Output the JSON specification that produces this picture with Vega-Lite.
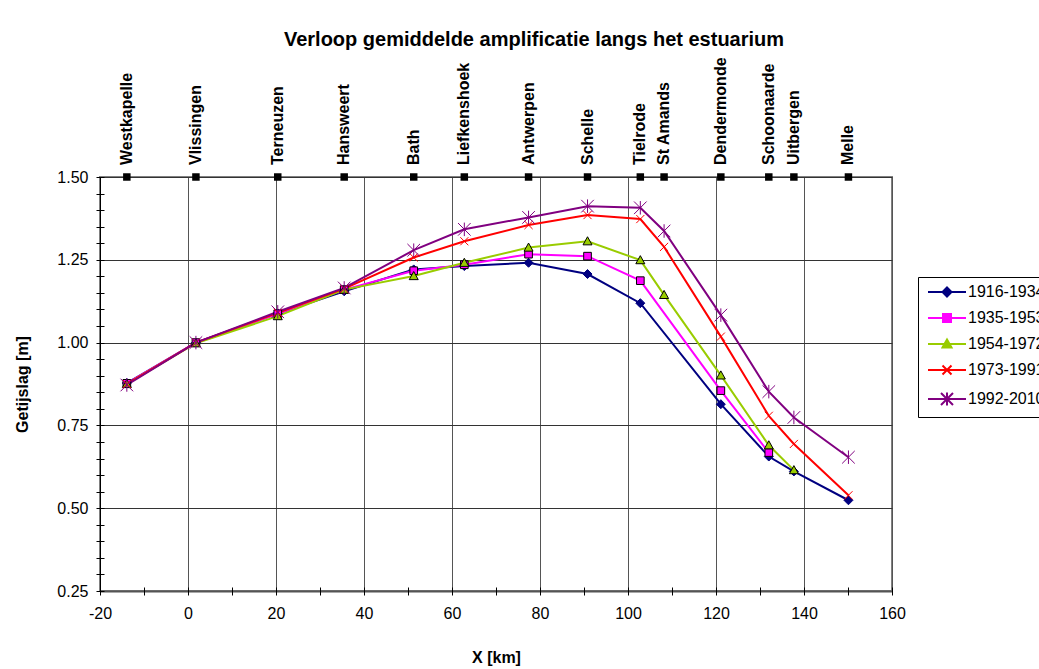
{
  "$schema": "https://vega.github.io/schema/vega-lite/v6.json",
  "width": 792,
  "height": 414,
  "autosize": {"type": "none"},
  "padding": {"left": 100, "top": 177, "right": 147, "bottom": 78},
  "background": "white",
  "config": {
    "font": "Liberation Sans",
    "view": {"stroke": "#808080", "strokeWidth": 2},
    "axis": {"labelColor": "black", "titleColor": "black", "labelFont": "Liberation Sans", "titleFont": "Liberation Sans"}
  },
  "title": {
    "text": "Verloop gemiddelde amplificatie langs het estuarium",
    "fontSize": 20,
    "fontWeight": "bold",
    "font": "Liberation Sans",
    "color": "black",
    "anchor": "middle",
    "dx": 38,
    "offset": 7
  },
  "datasets": {
    "amp": [
      {"series": "1916-1934", "km": -13.9, "v": 0.878},
      {"series": "1916-1934", "km": 1.8, "v": 1.0},
      {"series": "1916-1934", "km": 20.4, "v": 1.088},
      {"series": "1916-1934", "km": 35.5, "v": 1.155},
      {"series": "1916-1934", "km": 51.3, "v": 1.221},
      {"series": "1916-1934", "km": 62.8, "v": 1.231},
      {"series": "1916-1934", "km": 77.4, "v": 1.241},
      {"series": "1916-1934", "km": 90.8, "v": 1.207},
      {"series": "1916-1934", "km": 102.8, "v": 1.119},
      {"series": "1916-1934", "km": 121.1, "v": 0.814},
      {"series": "1916-1934", "km": 132.0, "v": 0.656},
      {"series": "1916-1934", "km": 137.7, "v": 0.611},
      {"series": "1916-1934", "km": 150.1, "v": 0.524},
      {"series": "1935-1953", "km": -13.9, "v": 0.877},
      {"series": "1935-1953", "km": 1.8, "v": 1.0},
      {"series": "1935-1953", "km": 20.4, "v": 1.087},
      {"series": "1935-1953", "km": 35.5, "v": 1.16},
      {"series": "1935-1953", "km": 51.3, "v": 1.217},
      {"series": "1935-1953", "km": 62.8, "v": 1.235},
      {"series": "1935-1953", "km": 77.4, "v": 1.267},
      {"series": "1935-1953", "km": 90.8, "v": 1.261},
      {"series": "1935-1953", "km": 102.8, "v": 1.187},
      {"series": "1935-1953", "km": 121.1, "v": 0.855},
      {"series": "1935-1953", "km": 132.0, "v": 0.668},
      {"series": "1954-1972", "km": -13.9, "v": 0.875},
      {"series": "1954-1972", "km": 1.8, "v": 0.998},
      {"series": "1954-1972", "km": 20.4, "v": 1.08},
      {"series": "1954-1972", "km": 35.5, "v": 1.16},
      {"series": "1954-1972", "km": 51.3, "v": 1.201},
      {"series": "1954-1972", "km": 62.8, "v": 1.241},
      {"series": "1954-1972", "km": 77.4, "v": 1.287},
      {"series": "1954-1972", "km": 90.8, "v": 1.306},
      {"series": "1954-1972", "km": 102.8, "v": 1.249},
      {"series": "1954-1972", "km": 108.2, "v": 1.144},
      {"series": "1954-1972", "km": 121.1, "v": 0.901},
      {"series": "1954-1972", "km": 132.0, "v": 0.69},
      {"series": "1954-1972", "km": 137.7, "v": 0.615},
      {"series": "1973-1991", "km": -13.9, "v": 0.875},
      {"series": "1973-1991", "km": 1.8, "v": 1.0},
      {"series": "1973-1991", "km": 20.4, "v": 1.09},
      {"series": "1973-1991", "km": 35.5, "v": 1.163},
      {"series": "1973-1991", "km": 51.3, "v": 1.257},
      {"series": "1973-1991", "km": 62.8, "v": 1.306},
      {"series": "1973-1991", "km": 77.4, "v": 1.355},
      {"series": "1973-1991", "km": 90.8, "v": 1.385},
      {"series": "1973-1991", "km": 102.8, "v": 1.373},
      {"series": "1973-1991", "km": 108.2, "v": 1.289},
      {"series": "1973-1991", "km": 121.1, "v": 1.018},
      {"series": "1973-1991", "km": 132.0, "v": 0.779},
      {"series": "1973-1991", "km": 137.7, "v": 0.694},
      {"series": "1973-1991", "km": 150.1, "v": 0.539},
      {"series": "1992-2010", "km": -13.9, "v": 0.872},
      {"series": "1992-2010", "km": 1.8, "v": 1.0},
      {"series": "1992-2010", "km": 20.4, "v": 1.093},
      {"series": "1992-2010", "km": 35.5, "v": 1.165},
      {"series": "1992-2010", "km": 51.3, "v": 1.279},
      {"series": "1992-2010", "km": 62.8, "v": 1.342},
      {"series": "1992-2010", "km": 77.4, "v": 1.378},
      {"series": "1992-2010", "km": 90.8, "v": 1.412},
      {"series": "1992-2010", "km": 102.8, "v": 1.407},
      {"series": "1992-2010", "km": 108.2, "v": 1.337},
      {"series": "1992-2010", "km": 121.1, "v": 1.083},
      {"series": "1992-2010", "km": 132.0, "v": 0.852},
      {"series": "1992-2010", "km": 137.7, "v": 0.774},
      {"series": "1992-2010", "km": 150.1, "v": 0.654}
    ],
    "stations": [
      {"name": "Westkapelle", "km": -13.9},
      {"name": "Vlissingen", "km": 1.8},
      {"name": "Terneuzen", "km": 20.4},
      {"name": "Hansweert", "km": 35.5},
      {"name": "Bath", "km": 51.3},
      {"name": "Liefkenshoek", "km": 62.8},
      {"name": "Antwerpen", "km": 77.4},
      {"name": "Schelle", "km": 90.8},
      {"name": "Tielrode", "km": 102.8},
      {"name": "St Amands", "km": 108.2},
      {"name": "Dendermonde", "km": 121.1},
      {"name": "Schoonaarde", "km": 132.0},
      {"name": "Uitbergen", "km": 137.7},
      {"name": "Melle", "km": 150.1}
    ]
  },
  "layer": [
    {
      "data": {"name": "amp"},
      "transform": [{"filter": "datum.series == '1916-1934'"}],
      "mark": {"type": "line", "color": "#000080", "strokeWidth": 2},
      "encoding": {
        "x": {
          "field": "km", "type": "quantitative",
          "scale": {"domain": [-20, 160], "nice": false, "zero": false},
          "axis": {
            "orient": "bottom",
            "values": [-20, 0, 20, 40, 60, 80, 100, 120, 140, 160],
            "labelExpr": "'' + datum.value",
            "grid": true, "gridColor": "#555", "gridWidth": 1,
            "ticks": false, "tickSize": 0,
            "domain": true, "domainColor": "#555", "domainWidth": 2,
            "labelFontSize": 16, "labelPadding": 14, "labelFlush": false, "labelOverlap": false,
            "title": "X [km]", "titleFontSize": 16, "titleFontWeight": "bold", "titlePadding": 28
          }
        },
        "y": {
          "field": "v", "type": "quantitative",
          "scale": {"domain": [0.25, 1.5], "nice": false, "zero": false},
          "axis": {
            "orient": "left",
            "values": [0.25, 0.5, 0.75, 1.0, 1.25, 1.5],
            "format": ".2f",
            "grid": true, "gridColor": "#333", "gridWidth": 1,
            "ticks": false, "tickSize": 0,
            "domain": true, "domainColor": "black", "domainWidth": 1,
            "labelFontSize": 16, "labelPadding": 12, "labelOverlap": false,
            "title": "Getijslag [m]", "titleFontSize": 16, "titleFontWeight": "bold", "titlePadding": 26
          }
        }
      }
    },
    {
      "data": {"name": "amp"},
      "transform": [{"filter": "datum.series == '1935-1953'"}],
      "mark": {"type": "line", "color": "#FF00FF", "strokeWidth": 2},
      "encoding": {
        "x": {"field": "km", "type": "quantitative", "axis": null},
        "y": {"field": "v", "type": "quantitative", "axis": null}
      }
    },
    {
      "data": {"name": "amp"},
      "transform": [{"filter": "datum.series == '1954-1972'"}],
      "mark": {"type": "line", "color": "#99CC00", "strokeWidth": 2},
      "encoding": {
        "x": {"field": "km", "type": "quantitative", "axis": null},
        "y": {"field": "v", "type": "quantitative", "axis": null}
      }
    },
    {
      "data": {"name": "amp"},
      "transform": [{"filter": "datum.series == '1973-1991'"}],
      "mark": {"type": "line", "color": "#FF0000", "strokeWidth": 2},
      "encoding": {
        "x": {"field": "km", "type": "quantitative", "axis": null},
        "y": {"field": "v", "type": "quantitative", "axis": null}
      }
    },
    {
      "data": {"name": "amp"},
      "transform": [{"filter": "datum.series == '1992-2010'"}],
      "mark": {"type": "line", "color": "#800080", "strokeWidth": 2},
      "encoding": {
        "x": {"field": "km", "type": "quantitative", "axis": null},
        "y": {"field": "v", "type": "quantitative", "axis": null}
      }
    },
    {
      "data": {"name": "amp"},
      "transform": [{"filter": "datum.series == '1916-1934'"}],
      "mark": {"type": "point", "filled": true, "opacity": 1, "size": 81, "shape": "M0,-1L1,0L0,1L-1,0Z", "fill": "#000080", "stroke": "#000080", "strokeWidth": 1},
      "encoding": {
        "x": {
          "field": "km", "type": "quantitative",
          "axis": {
            "orient": "bottom",
            "values": [-20, -10, 0, 10, 20, 30, 40, 50, 60, 70, 80, 90, 100, 110, 120, 130, 140, 150, 160],
            "labels": false, "domain": false, "grid": false,
            "ticks": true, "tickSize": 8, "tickColor": "black", "tickWidth": 1,
            "offset": -4, "title": null
          }
        },
        "y": {
          "field": "v", "type": "quantitative",
          "axis": {
            "orient": "left",
            "values": [0.25, 0.3, 0.35, 0.4, 0.45, 0.5, 0.55, 0.6, 0.65, 0.7, 0.75, 0.8, 0.85, 0.9, 0.95, 1.0, 1.05, 1.1, 1.15, 1.2, 1.25, 1.3, 1.35, 1.4, 1.45, 1.5],
            "labels": false, "domain": false, "grid": false,
            "ticks": true, "tickSize": 8, "tickColor": "black", "tickWidth": 1,
            "offset": -4, "title": null
          }
        }
      }
    },
    {
      "data": {"name": "amp"},
      "transform": [{"filter": "datum.series == '1935-1953'"}],
      "mark": {"type": "point", "filled": true, "opacity": 1, "size": 81, "shape": "M-0.85,-0.85H0.85V0.85H-0.85Z", "fill": "#FF00FF", "stroke": "black", "strokeWidth": 1},
      "encoding": {
        "x": {"field": "km", "type": "quantitative", "axis": null},
        "y": {"field": "v", "type": "quantitative", "axis": null}
      }
    },
    {
      "data": {"name": "amp"},
      "transform": [{"filter": "datum.series == '1954-1972'"}],
      "mark": {"type": "point", "filled": true, "opacity": 1, "size": 81, "shape": "M0,-1L1,0.8L-1,0.8Z", "fill": "#99CC00", "stroke": "black", "strokeWidth": 1},
      "encoding": {
        "x": {"field": "km", "type": "quantitative", "axis": null},
        "y": {"field": "v", "type": "quantitative", "axis": null}
      }
    },
    {
      "data": {"name": "amp"},
      "transform": [{"filter": "datum.series == '1973-1991'"}],
      "mark": {"type": "point", "filled": false, "opacity": 1, "size": 81, "shape": "M-0.9,-0.9L0.9,0.9M-0.9,0.9L0.9,-0.9", "stroke": "#FF0000", "strokeWidth": 1},
      "encoding": {
        "x": {"field": "km", "type": "quantitative", "axis": null},
        "y": {"field": "v", "type": "quantitative", "axis": null}
      }
    },
    {
      "data": {"name": "amp"},
      "transform": [{"filter": "datum.series == '1992-2010'"}],
      "mark": {"type": "point", "filled": false, "opacity": 1, "size": 81, "shape": "M-1.4,-1.4L1.4,1.4M-1.4,1.4L1.4,-1.4M0,-1.5V1.5", "stroke": "#800080", "strokeWidth": 1},
      "encoding": {
        "x": {"field": "km", "type": "quantitative", "axis": null},
        "y": {"field": "v", "type": "quantitative", "axis": null}
      }
    },
    {
      "data": {"name": "amp"},
      "transform": [{"filter": "false"}],
      "mark": {"type": "point", "filled": true, "opacity": 1, "size": 100, "strokeWidth": 2},
      "encoding": {
        "x": {"field": "km", "type": "quantitative", "axis": null},
        "y": {"field": "v", "type": "quantitative", "axis": null},
        "color": {
          "field": "series", "type": "nominal",
          "scale": {
            "domain": ["1916-1934", "1935-1953", "1954-1972", "1973-1991", "1992-2010"],
            "range": ["#000080", "#FF00FF", "#99CC00", "#FF0000", "#800080"]
          },
          "legend": {
            "title": null, "orient": "none", "legendX": 818, "legendY": 100,
            "strokeColor": "black", "fillColor": "white", "padding": 7,
            "symbolSize": 100, "symbolStrokeWidth": 2, "symbolOffset": 14, "labelOffset": 13,
            "labelFontSize": 16, "labelColor": "black", "labelFont": "Liberation Sans", "rowPadding": 9
          }
        },
        "stroke": {
          "field": "series", "type": "nominal",
          "scale": {
            "domain": ["1916-1934", "1935-1953", "1954-1972", "1973-1991", "1992-2010"],
            "range": ["#000080", "#FF00FF", "#99CC00", "#FF0000", "#800080"]
          },
          "legend": {
            "title": null, "orient": "none", "legendX": 818, "legendY": 100,
            "strokeColor": "black", "fillColor": "white", "padding": 7,
            "symbolSize": 100, "symbolStrokeWidth": 2, "symbolOffset": 14, "labelOffset": 13,
            "labelFontSize": 16, "labelColor": "black", "labelFont": "Liberation Sans", "rowPadding": 9
          }
        },
        "shape": {
          "field": "series", "type": "nominal",
          "scale": {
            "domain": ["1916-1934", "1935-1953", "1954-1972", "1973-1991", "1992-2010"],
            "range": [
              "M-3.8,0H3.8M0,-0.9L0.9,0L0,0.9L-0.9,0Z",
              "M-3.8,0H3.8M-0.8,-0.8H0.8V0.8H-0.8Z",
              "M-3.8,0H3.8M0,-0.9L0.9,0.7L-0.9,0.7Z",
              "M-3.8,0H3.8M-0.9,-0.9L0.9,0.9M-0.9,0.9L0.9,-0.9",
              "M-3.8,0H3.8M-1.2,-1.2L1.2,1.2M-1.2,1.2L1.2,-1.2M0,-1.3V1.3"
            ]
          },
          "legend": {
            "title": null, "orient": "none", "legendX": 818, "legendY": 100,
            "strokeColor": "black", "fillColor": "white", "padding": 7,
            "symbolSize": 100, "symbolStrokeWidth": 2, "symbolOffset": 14, "labelOffset": 13,
            "labelFontSize": 16, "labelColor": "black", "labelFont": "Liberation Sans", "rowPadding": 9
          }
        }
      }
    },
    {
      "data": {"name": "stations"},
      "mark": {"type": "point", "shape": "square", "filled": true, "opacity": 1, "size": 56, "color": "black"},
      "encoding": {
        "x": {"field": "km", "type": "quantitative", "axis": null},
        "y": {"datum": 1.5, "type": "quantitative", "axis": null}
      }
    },
    {
      "data": {"name": "stations"},
      "mark": {"type": "text", "angle": 270, "align": "left", "baseline": "middle", "dx": 12, "fontSize": 16, "fontWeight": "bold", "font": "Liberation Sans", "color": "black"},
      "encoding": {
        "x": {"field": "km", "type": "quantitative", "axis": null},
        "y": {"datum": 1.5, "type": "quantitative", "axis": null},
        "text": {"field": "name"}
      }
    }
  ],
  "resolve": {"axis": {"x": "independent", "y": "independent"}}
}
